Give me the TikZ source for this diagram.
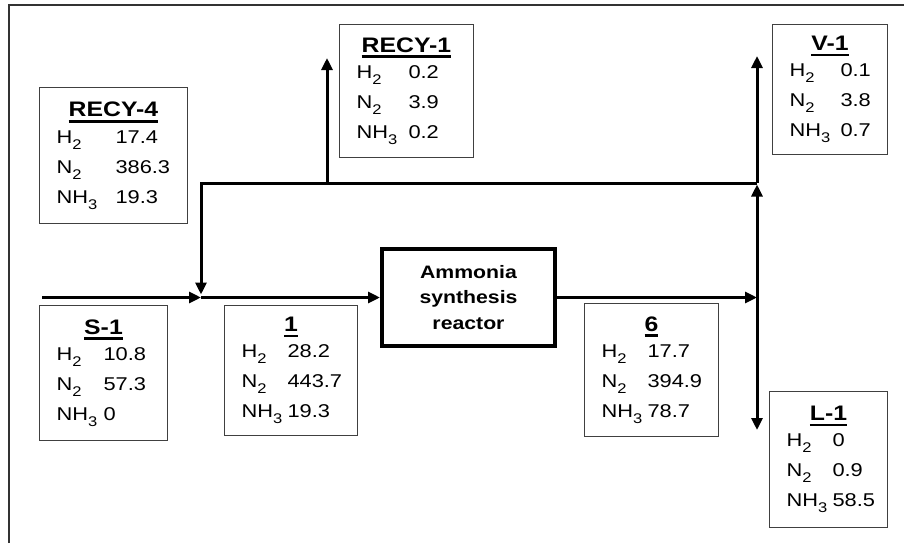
\documentclass[tikz,border=0pt]{standalone}
\usepackage{fontspec}
\setmainfont[FakeStretch=1.18]{Liberation Sans}
\usetikzlibrary{arrows.meta, positioning}
\newlength{\compw}
\newcommand{\chsub}[1]{\raisebox{-6pt}{\fontsize{14}{14}\selectfont #1}}
\newcommand{\comp}[2]{\makebox[\compw][l]{#1}#2}
\newcommand{\streamtitle}[1]{\noindent\makebox[\hsize]{\bfseries\fontsize{21}{21}\selectfont\setbox0=\hbox{#1}\rlap{\rule[-6pt]{\wd0}{2.7pt}}\box0}}
\tikzset{
  stream/.style={
    draw=black!75, line width=1pt, anchor=north west,
    align=left, inner xsep=17pt, inner ysep=0pt,
    font=\fontsize{18.5}{30}\selectfont,
    execute at begin node={\setlength{\compw}{#1}}},
  reactor/.style={
    draw, line width=4pt, minimum width=173pt, minimum height=97pt,
    align=center, font=\bfseries\fontsize{18}{25.5}\selectfont},
  pipe/.style={line width=3pt},
  arr/.style={pipe, -{Triangle[length=12pt,width=11pt]}},
  frame/.style={line width=1.5pt, black!80},
}
\begin{document}
\begin{tikzpicture}[x=1pt, y=-1pt]
  \useasboundingbox (0,0) rectangle (904,543);
  \draw[frame] (9,543) -- (9,5) -- (904,5);
  \node[reactor] (reactor) at (468.5,297.5) {Ammonia\\synthesis\\reactor};
  \node[stream=59pt, text width=114pt, minimum width=148pt, minimum height=136pt] (recy4) at (39,87)
    {\streamtitle{RECY-4}\\[-3.5pt] \comp{H\chsub{2}}{17.4}\\ \comp{N\chsub{2}}{386.3}\\ \comp{NH\chsub{3}}{19.3}};
  \node[stream=52pt, text width=100pt, minimum width=134pt, minimum height=133pt] (recy1) at (339,24)
    {\streamtitle{RECY-1}\\[-3.5pt] \comp{H\chsub{2}}{0.2}\\ \comp{N\chsub{2}}{3.9}\\ \comp{NH\chsub{3}}{0.2}};
  \node[stream=51pt, text width=81pt, minimum width=115pt, minimum height=130pt] (v1) at (772,24)
    {\streamtitle{V-1}\\[-3.5pt] \comp{H\chsub{2}}{0.1}\\ \comp{N\chsub{2}}{3.8}\\ \comp{NH\chsub{3}}{0.7}};
  \node[stream=47pt, text width=94pt, minimum width=128pt, minimum height=135pt] (s1) at (39,305)
    {\streamtitle{S-1}\\[-3.5pt] \comp{H\chsub{2}}{10.8}\\ \comp{N\chsub{2}}{57.3}\\ \comp{NH\chsub{3}}{0}};
  \node[stream=46pt, text width=99pt, minimum width=133pt, minimum height=130pt] (one) at (224,305)
    {\streamtitle{1}\\[-3.5pt] \comp{H\chsub{2}}{28.2}\\ \comp{N\chsub{2}}{443.7}\\ \comp{NH\chsub{3}}{19.3}};
  \node[stream=46pt, text width=100pt, minimum width=134pt, minimum height=133pt] (six) at (584,303)
    {\streamtitle{6}\\[-3.5pt] \comp{H\chsub{2}}{17.7}\\ \comp{N\chsub{2}}{394.9}\\ \comp{NH\chsub{3}}{78.7}};
  \node[stream=46pt, text width=84pt, minimum width=118pt, minimum height=136pt] (l1) at (769,391)
    {\streamtitle{L-1}\\[-3.5pt] \comp{H\chsub{2}}{0}\\ \comp{N\chsub{2}}{0.9}\\ \comp{NH\chsub{3}}{58.5}};
  \coordinate (feed) at (42,297.5);
  \coordinate (mix) at (201,297.5);
  \coordinate (split) at (757,297.5);
  \coordinate (top) at (757,183);
  \coordinate (corner) at (201,183);
  \coordinate (purge) at (327,183);
  \coordinate (purgeout) at (327,58);
  \coordinate (vent) at (757,56);
  \coordinate (liq) at (757,430);
  \draw[arr] (feed) -- (mix);
  \draw[arr] (mix) -- (reactor.west);
  \draw[arr] (reactor.east) -- (split);
  \draw[arr, shorten >=1.5pt] (split) -- (top);
  \draw[arr] (split) -- (liq);
  \draw[arr] (top) -- (vent);
  \draw[arr] (purge) -- (purgeout);
  \draw[arr, shorten >=3pt] (top) -- (corner) -- (mix);
\end{tikzpicture}
\end{document}
